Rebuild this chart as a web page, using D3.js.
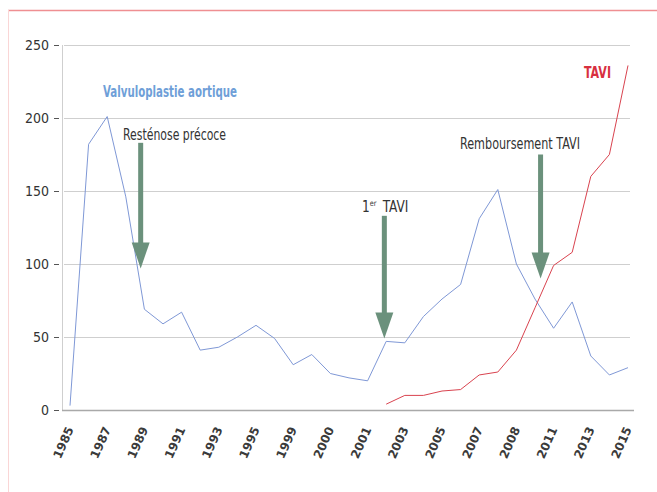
<!DOCTYPE html>
<html>
<head>
<meta charset="utf-8">
<script src="https://cdn.jsdelivr.net/npm/d3@7"></script>
<style>
  body { margin: 0; background: #fff; }
  svg { display: block; }
</style>
</head>
<body>
<div id="chart"></div>
<script>
// x-axis labels, shown on every other category
const tickLabels = ["1985", "1987", "1989", "1991", "1993", "1995", "1999", "2000",
  "2001", "2003", "2005", "2007", "2008", "2011", "2013", "2015"];

// valvuloplastie aortique, one value per category (31)
const valvuloplastie = [3, 182, 201, 146, 69, 59, 67, 41, 43, 50, 58, 49, 31, 38, 25,
  22, 20, 47, 46, 64, 76, 86, 131, 151, 100, 76, 56, 74, 37, 24, 29];

// TAVI, starts at category 17
const tavi = [null, null, null, null, null, null, null, null, null, null, null, null,
  null, null, null, null, null, 4, 10, 10, 13, 14, 24, 26, 41, 70, 99, 108, 160, 175, 236];

const yTicks = [0, 50, 100, 150, 200, 250];

// annotations: category position, top value, tip value
const arrows = [
  { label: "Resténose précoce", at: 3.8, from: 183, to: 97 },
  { label: "1er TAVI", at: 16.9, from: 133, to: 49 },
  { label: "Remboursement TAVI", at: 25.3, from: 175, to: 90 }
];

const width = 657;
const height = 492;

const x = d3.scaleLinear().domain([0, 30]).range([70, 628]);
const y = d3.scaleLinear().domain([0, 250]).range([410, 45]);

const svg = d3.select("#chart")
  .append("svg")
  .attr("width", width)
  .attr("height", height);

// pink frame
svg.append("line")
  .attr("x1", 8).attr("x2", width).attr("y1", 10.5).attr("y2", 10.5)
  .attr("stroke", "#ef8f92").attr("stroke-width", 1.5);
svg.append("line")
  .attr("x1", 8.5).attr("x2", 8.5).attr("y1", 10).attr("y2", height)
  .attr("stroke", "#fad6d6").attr("stroke-width", 1);

// gridlines
svg.append("g")
  .selectAll("line")
  .data(yTicks.filter((d) => d > 0))
  .join("line")
  .attr("x1", 64).attr("x2", 630)
  .attr("y1", (d) => y(d) + 0.5).attr("y2", (d) => y(d) + 0.5)
  .attr("stroke", "#cfcfcf");

// axes
svg.append("line")
  .attr("x1", 62.5).attr("x2", 62.5).attr("y1", y(250)).attr("y2", y(0))
  .attr("stroke", "#cfcfcf");
svg.append("line")
  .attr("x1", 62).attr("x2", 634).attr("y1", y(0) + 0.5).attr("y2", y(0) + 0.5)
  .attr("stroke", "#a9a9a9").attr("stroke-width", 1.5);

const condensed = "'Liberation Sans Narrow', 'DejaVu Sans Condensed', sans-serif";

const yg = svg.append("g");
yg.selectAll("line")
  .data(yTicks)
  .join("line")
  .attr("x1", 54).attr("x2", 59)
  .attr("y1", (d) => y(d) + 0.5).attr("y2", (d) => y(d) + 0.5)
  .attr("stroke", "#555");
yg.selectAll("text")
  .data(yTicks)
  .join("text")
  .attr("x", 49)
  .attr("y", (d) => y(d))
  .attr("dy", "0.35em")
  .attr("text-anchor", "end")
  .attr("font-family", condensed)
  .attr("font-size", 14)
  .attr("fill", "#333")
  .text((d) => d);

// x labels
svg.append("g")
  .selectAll("text")
  .data(tickLabels)
  .join("text")
  .attr("transform", (d, i) => `translate(${x(i * 2) + 4},429) rotate(-66)`)
  .attr("text-anchor", "end")
  .attr("font-family", "'DejaVu Sans', Verdana, sans-serif")
  .attr("font-weight", "bold")
  .attr("font-size", 12)
  .attr("fill", "#3a3a3a")
  .text((d) => d);

// lines
const line = d3.line()
  .defined((d) => d != null)
  .x((d, i) => x(i))
  .y((d) => y(d));

svg.append("path")
  .datum(valvuloplastie)
  .attr("fill", "none")
  .attr("stroke", "#7f98d6")
  .attr("stroke-width", 1)
  .attr("d", line);

svg.append("path")
  .datum(tavi)
  .attr("fill", "none")
  .attr("stroke", "#d9434f")
  .attr("stroke-width", 1)
  .attr("d", line);

// arrows
const green = "#6b917c";
arrows.forEach((a) => {
  const ax = x(a.at);
  const top = y(a.from);
  const tip = y(a.to);
  const headH = 26;
  const headW = 9;
  svg.append("rect")
    .attr("x", ax - 2.5).attr("y", top)
    .attr("width", 5).attr("height", tip - headH - top + 1)
    .attr("fill", green);
  svg.append("path")
    .attr("d", `M${ax - headW},${tip - headH} L${ax + headW},${tip - headH} L${ax},${tip} Z`)
    .attr("fill", green);
});

function label(text, lx, ly, len, opts = {}) {
  return svg.append("text")
    .attr("x", lx).attr("y", ly)
    .attr("font-family", condensed)
    .attr("font-size", opts.size || 15)
    .attr("font-weight", opts.weight || "normal")
    .attr("fill", opts.fill || "#333")
    .attr("textLength", len)
    .attr("lengthAdjust", "spacingAndGlyphs")
    .text(text);
}

label(arrows[0].label, 123, 140, 103);
label(arrows[2].label, 460, 149, 120);
label("Valvuloplastie aortique", 103, 97, 134, { weight: "bold", fill: "#6f9fd8" });
label("TAVI", 584, 78, 27, { weight: "bold", fill: "#d8303f" });

const t2 = svg.append("text")
  .attr("transform", "translate(362,212) scale(0.9,1)")
  .attr("font-family", condensed).attr("font-size", 15).attr("fill", "#333");
t2.append("tspan").text("1");
t2.append("tspan").attr("font-size", 8).attr("dy", -6).text("er");
t2.append("tspan").attr("dy", 6).attr("dx", 7).text("TAVI");
</script>
</body>
</html>
